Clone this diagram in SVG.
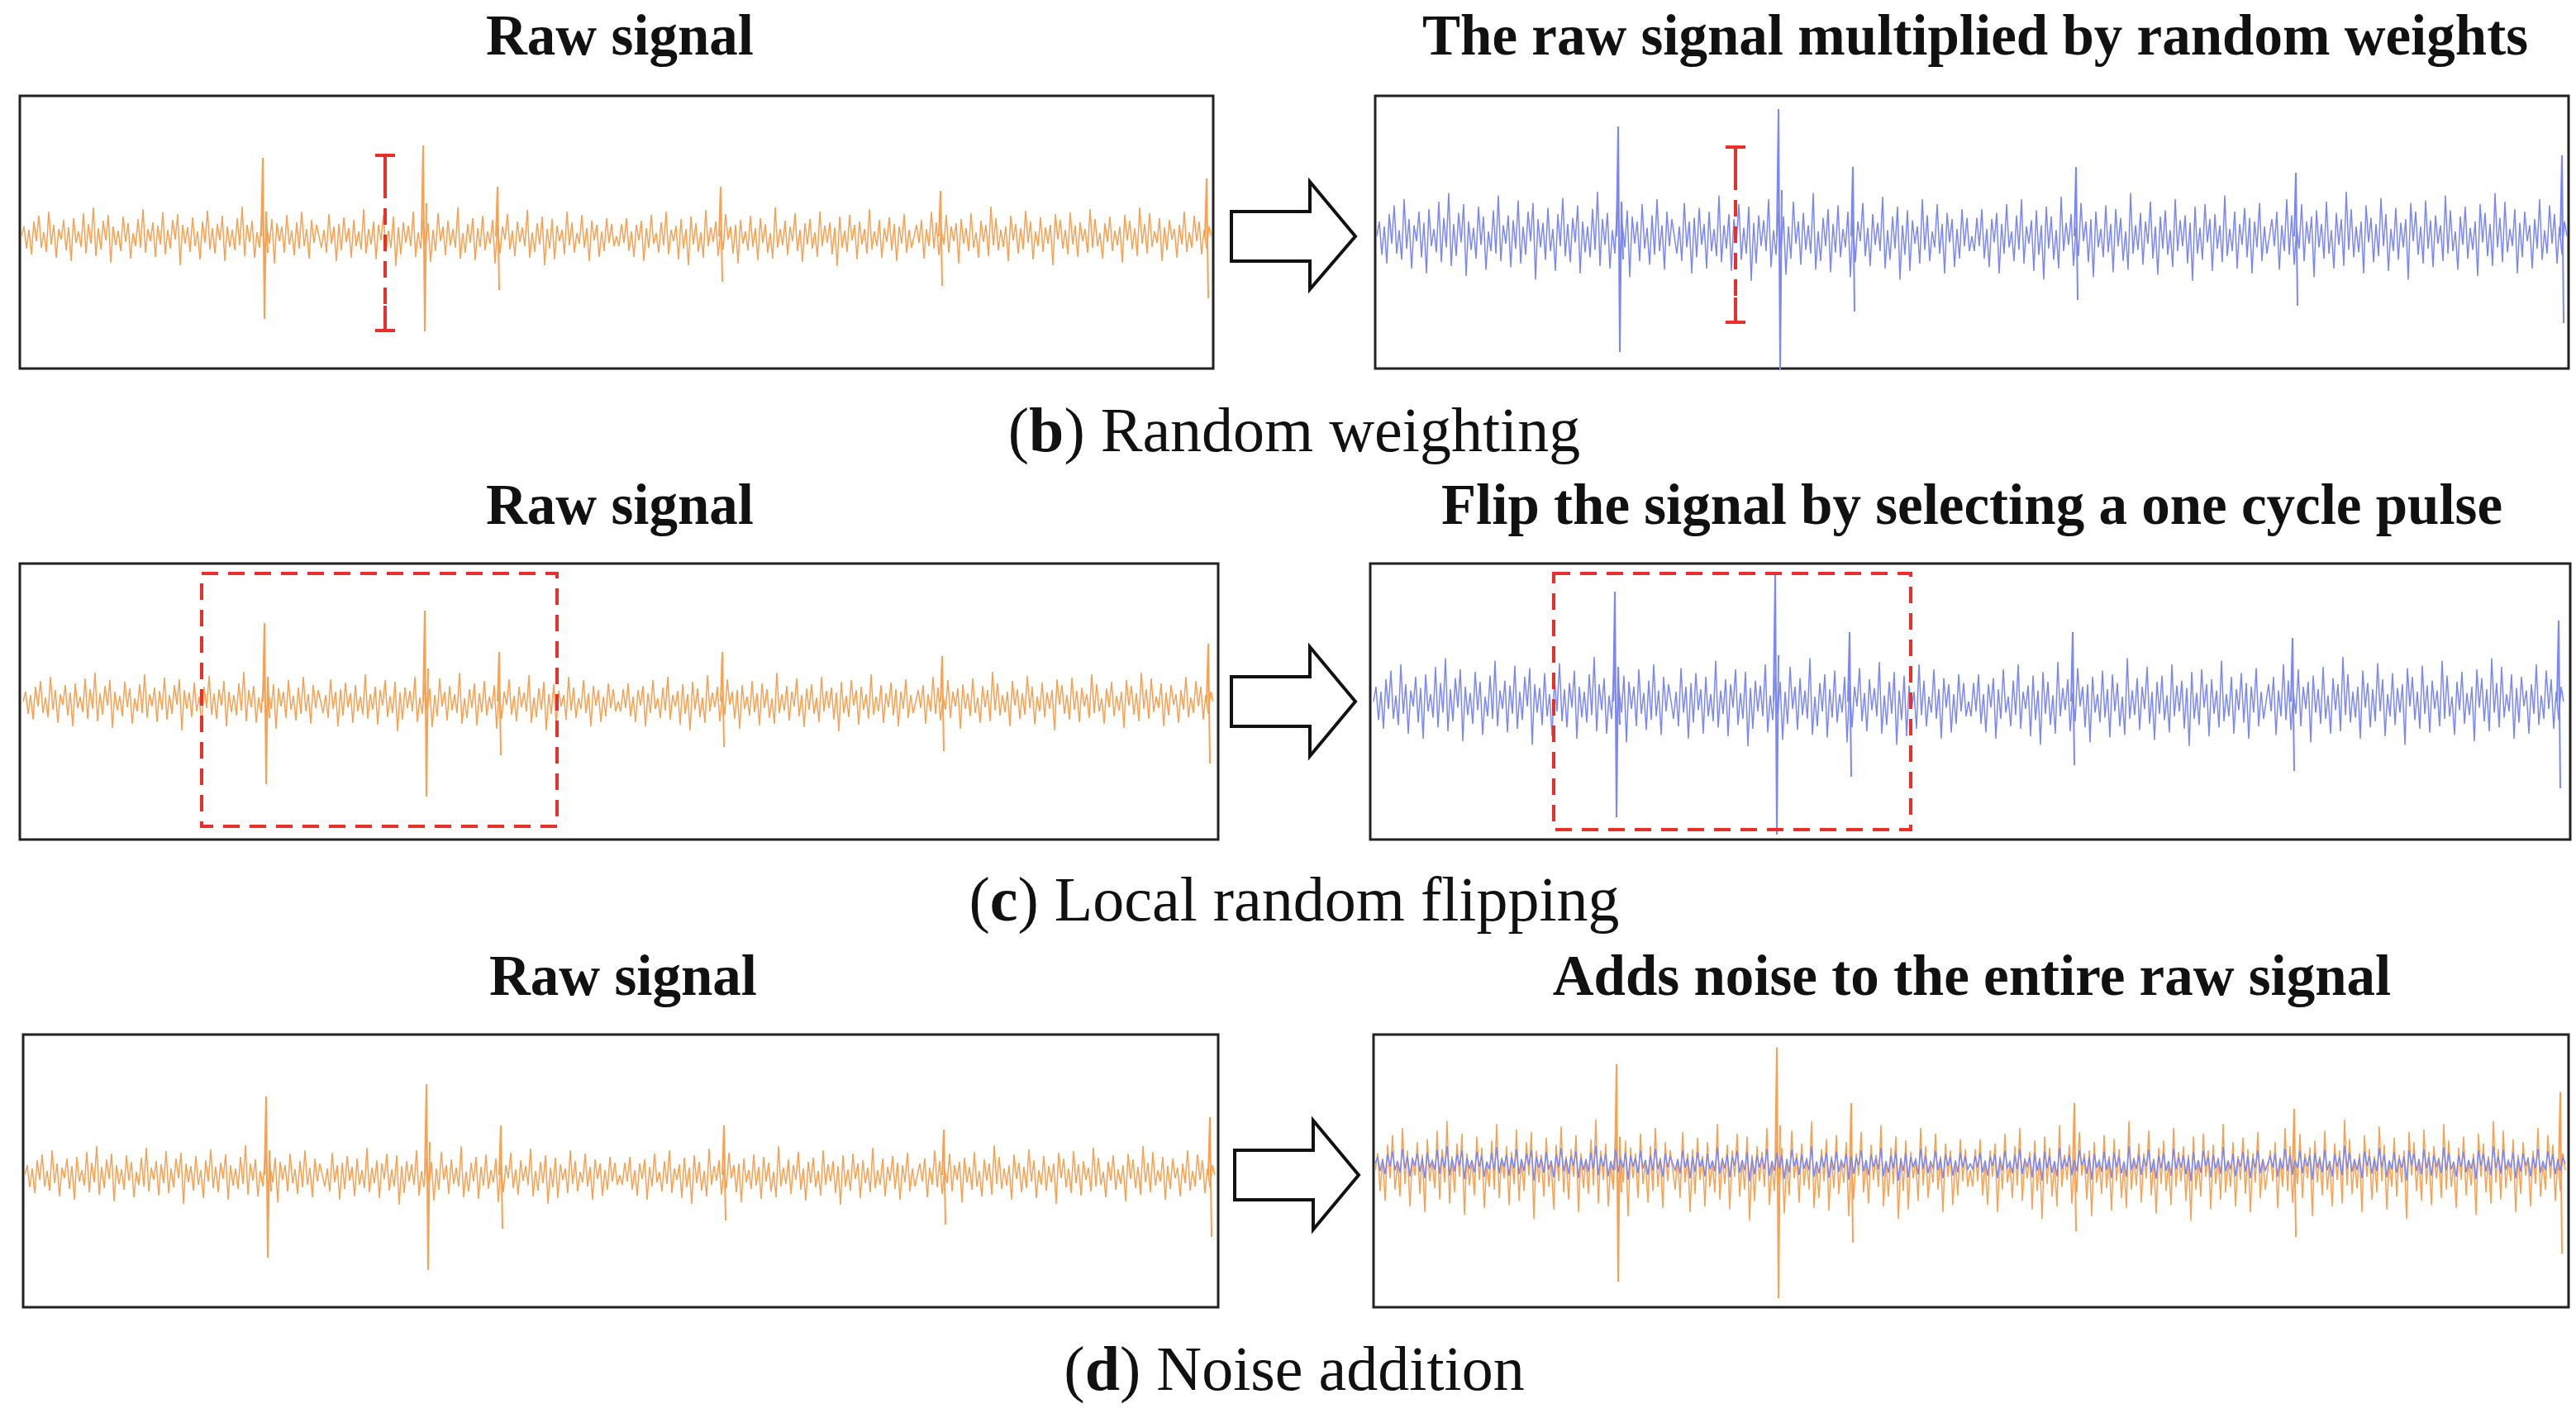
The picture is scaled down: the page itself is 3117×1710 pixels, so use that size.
<svg xmlns="http://www.w3.org/2000/svg" xmlns:xlink="http://www.w3.org/1999/xlink" width="3117" height="1710" viewBox="0 0 3117 1710">
<style>
.box{fill:#fff;stroke:#222;stroke-width:3}
.t{font-family:"Liberation Serif",serif;font-weight:bold;font-size:69px;text-anchor:middle;fill:#111}
.cap{font-family:"Liberation Serif",serif;font-size:76px;text-anchor:middle;fill:#111}
.o{stroke:#F5A253}
.bl{stroke:#7C88F2}
.arr{fill:#fff;stroke:#111;stroke-width:4;stroke-linejoin:miter}
.red{fill:none;stroke:#E8302A;stroke-width:4;stroke-dasharray:20 12}
.redm{fill:none;stroke:#E8302A;stroke-width:4}
</style>
<defs>
<polyline id="n" fill="none" stroke-width="1.5" vector-effect="non-scaling-stroke" transform="scale(3,1)" points="0,0 1,-12 2,15 3,-8 4,22 5,-18 6,6 7,-25 8,14 9,-5 10,19 11,-30 12,10 13,-14 14,26 15,-9 16,4 17,-20 18,17 19,-11 20,30 21,-22 22,8 23,-6 24,13 25,-28 26,21 27,-15 28,9 29,-35 30,24 31,-10 32,16 33,-19 34,5 35,-26 36,32 37,-12 38,11 39,-7 40,18 41,-24 42,7 43,-16 44,27 45,-4 46,12 47,-21 48,14 49,-33 50,20 51,-9 52,6 53,-17 54,25 55,-13 56,10 57,-29 58,22 59,-8 60,15 61,-20 62,4 63,-27 64,35 65,-14 66,9 67,-11 68,19 69,-23 70,12 71,-6 72,28 73,-18 74,8 75,-31 76,16 77,-10 78,21 79,-15 80,5 81,-25 82,30 83,-12 84,13 85,-8 86,17 87,-22 88,11 89,-36 90,24 91,-14 92,7 93,-19 94,26 95,-5 96,14 97,-28 98,18 99,-10 100,9 101,-21 102,33 103,-16 104,6 105,-12 106,20 107,-26 108,10 109,-7 110,23 111,-17 112,15 113,-30 114,12 115,-9 116,27 117,-20 118,8 119,-14 120,0"/>
<g id="noise">
<use xlink:href="#n"/>
<use xlink:href="#n" transform="translate(720,0) scale(-1,-1)"/>
<use xlink:href="#n" transform="translate(720,0) scale(1,-1)"/>
<use xlink:href="#n" transform="translate(1440,0) scale(-1,1)"/>
</g>
<path id="spk" fill="none" stroke-width="2" d="M290,0 L292,-95 L294,100 L296,-30 L298,20 M484,0 L486,-110 L488,115 L490,-40 M574,0 L576,-60 L578,65 M844,0 L846,-60 L848,55 M1110,0 L1112,-55 L1114,60 M1432,0 L1434,-70 L1436,75"/>
<g id="raw"><use xlink:href="#noise"/><use xlink:href="#spk"/></g>
<g id="big"><use xlink:href="#noise" transform="scale(1,1.5)"/><use xlink:href="#spk" transform="scale(1,1.4)"/></g>
</defs>

<g id="arrows">
<path class="arr" d="M1490,256 H1585 V220 L1640,286 L1585,350 V316 H1490 Z"/>
<path class="arr" d="M1490,819 H1585 V783 L1640,849 L1585,915 V879 H1490 Z"/>
<path class="arr" d="M1494,1392 H1589 V1356 L1644,1422 L1589,1488 V1452 H1494 Z"/>
</g>

<g id="row-b">
<text class="t" x="750" y="66">Raw signal</text>
<text class="t" x="2390" y="66">The raw signal multiplied by random weights</text>
<rect class="box" x="24" y="116" width="1444" height="330"/>
<use class="o" xlink:href="#raw" transform="translate(26,286)"/>
<path class="redm" d="M454,188 H478 M466,188 V220 M454,400 H478 M466,370 V400"/>
<path class="red" d="M466,220 V370"/>
<rect class="box" x="1664" y="116" width="1444" height="330"/>
<use class="bl" xlink:href="#big" transform="translate(1666,286)"/>
<path class="redm" d="M2088,178 H2112 M2100,178 V210 M2088,390 H2112 M2100,360 V390"/>
<path class="red" d="M2100,210 V360"/>
<text class="cap" x="1566" y="546">(<tspan font-weight="bold">b</tspan>) Random weighting</text>
</g>

<g id="row-c">
<text class="t" x="750" y="634">Raw signal</text>
<text class="t" x="2386" y="634">Flip the signal by selecting a one cycle pulse</text>
<rect class="box" x="24" y="682" width="1450" height="334"/>
<use class="o" xlink:href="#raw" transform="translate(28,849)"/>
<rect class="red" x="244" y="694" width="430" height="306"/>
<rect class="box" x="1658" y="682" width="1452" height="334"/>
<use class="bl" xlink:href="#big" transform="translate(1662,849)"/>
<rect class="red" x="1880" y="694" width="432" height="310"/>
<text class="cap" x="1566" y="1114">(<tspan font-weight="bold">c</tspan>) Local random flipping</text>
</g>

<g id="row-d">
<text class="t" x="754" y="1204">Raw signal</text>
<text class="t" x="2386" y="1204">Adds noise to the entire raw signal</text>
<rect class="box" x="28" y="1252" width="1446" height="330"/>
<use class="o" xlink:href="#raw" transform="translate(30,1422)"/>
<rect class="box" x="1662" y="1252" width="1446" height="330"/>
<g transform="translate(1664,1416)">
<use class="o" xlink:href="#noise" transform="scale(1,1.7)"/>
<use class="o" xlink:href="#spk" transform="scale(1,1.35)"/>
<use class="bl" xlink:href="#noise" transform="translate(1440,-8) scale(-1,0.6)"/>
</g>
<text class="cap" x="1566" y="1682">(<tspan font-weight="bold">d</tspan>) Noise addition</text>
</g>
</svg>
